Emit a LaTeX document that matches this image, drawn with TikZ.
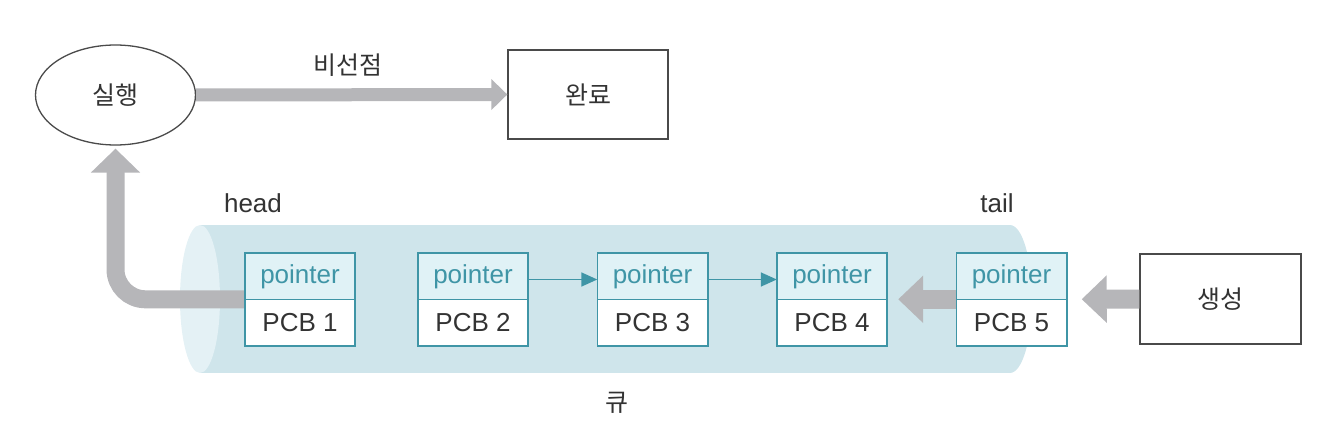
\documentclass[tikz,border=0pt]{standalone}
\usepackage{fontspec}
\setmainfont{Liberation Sans}
\newfontfamily\kr{Noto Sans CJK KR}
\usetikzlibrary{shapes.geometric,arrows.meta}
\definecolor{arrowgray}{HTML}{B6B6B9}
\definecolor{tubebody}{HTML}{CFE5EB}
\definecolor{tubecap}{HTML}{E4F1F5}
\definecolor{tealc}{HTML}{3F95A6}
\definecolor{ptrfill}{HTML}{E0F2F6}
\definecolor{textc}{HTML}{333333}
\definecolor{linec}{HTML}{4A4A4A}
\tikzset{
  krtext/.style={font=\kr\fontsize{25}{30}\selectfont, text=textc},
  lattext/.style={font=\fontsize{26}{30}\selectfont, text=textc},
  statebox/.style={draw=linec, line width=1.3pt, fill=white, minimum width=160pt, minimum height=89pt, inner sep=0pt, krtext},
  ptrcell/.style={fill=ptrfill, minimum width=110pt, minimum height=47pt, inner sep=0pt, font=\fontsize{26}{30}\selectfont, text=tealc},
  pcbcell/.style={fill=white, minimum width=110pt, minimum height=46pt, inner sep=0pt, lattext},
  pcbborder/.style={draw=tealc, line width=1.6pt},
  bigarrow/.style={draw=arrowgray, line width=#1},
  thinarrow/.style={draw=tealc, line width=1.6pt, -{Triangle[width=14pt,length=16pt]}}
}
\begin{document}
\begin{tikzpicture}[x=1pt,y=-1pt]
\useasboundingbox (0,0) rectangle (1326,428);
% queue tube
\fill[tubebody] (200,225) rectangle (1010,373);
\fill[tubebody] (1010,299) ellipse [x radius=22, y radius=74];
\fill[tubecap] (200,299) ellipse [x radius=20, y radius=74];
% states
\node[draw=linec, line width=1.3pt, ellipse, fill=white, minimum width=160pt, minimum height=100pt, inner sep=0pt, krtext] (run) at (115.5,95) {실행};
\node[statebox] (done) at (588,94.5) {완료};
\node[statebox, minimum width=161pt, minimum height=90pt] (gen) at (1220.5,299) {생성};
% PCBs
\foreach \i/\x in {1/300,2/473,3/652.5,4/832,5/1011.5}{
  \node[ptrcell] (t\i) at (\x,276.5) {pointer};
  \node[pcbcell] (b\i) at (\x,322.5) {PCB \i};
}
% labels
\node[krtext] (lbl) at (348,65) {비선점};
\node[lattext] (head) at (253,203) {head};
\node[lattext] (tail) at (997,203) {tail};
\node[krtext] (queue) at (617,403) {큐};
% gray arrows
\draw[bigarrow=13pt, -{Triangle[width=30pt,length=16pt,fill=arrowgray]}] (run.east) -- (done.west);
\draw[bigarrow=18pt, rounded corners=30pt, -{Triangle[width=48pt,length=24pt,fill=arrowgray]}] (b1.north west) -| ([yshift=-3pt]run.south);
\draw[bigarrow=19pt, shorten >=11pt, -{Triangle[width=46pt,length=25pt,fill=arrowgray]}] (b5.north west) -- (b4.north east);
\draw[bigarrow=19pt, shorten >=15pt, -{Triangle[width=46pt,length=25pt,fill=arrowgray]}] (gen.west) -- (b5.north east);
% PCB borders
\foreach \i in {1,2,3,4,5}{
  \draw[pcbborder] (t\i.north west) rectangle (b\i.south east);
  \draw[pcbborder] (b\i.north west) -- (b\i.north east);
}
% pointer links
\draw[thinarrow] ([yshift=-3pt]t2.east) -- ([yshift=-3pt]t3.west);
\draw[thinarrow] ([yshift=-3pt]t3.east) -- ([yshift=-3pt]t4.west);
\end{tikzpicture}
\end{document}
